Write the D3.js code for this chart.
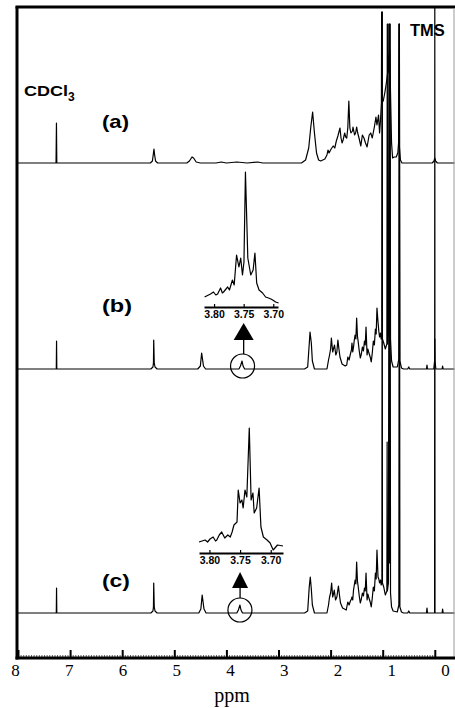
<!DOCTYPE html>
<html><head><meta charset="utf-8">
<script src="https://cdn.jsdelivr.net/npm/d3@7"></script>
<style>
html,body{margin:0;padding:0;background:#fff;}
svg{display:block;}
</style></head>
<body>
<svg id="c" width="455" height="708"></svg>
<script>
// ---------------- DATA ----------------
const ppmTicks = [8, 7, 6, 5, 4, 3, 2, 1, 0];
const axisTitle = "ppm";
const spectrumLabels = ["(a)", "(b)", "(c)"];
const insetTicks = [3.80, 3.75, 3.70];

// spectrum (a): [ppm, intensity]
const specA = [
  [8.0,0],[7.27,0],[7.262,40],[7.255,0],
  [5.46,0],[5.42,2],[5.40,10],[5.39,14],[5.38,9],[5.36,2],[5.32,0],
  [4.76,0],[4.71,2],[4.66,6],[4.63,5],[4.58,1],[4.50,0],
  [4.2,0],[4.1,1],[4.0,0],[3.8,1],[3.6,0],[3.4,1],[3.3,0],
  [2.56,0],[2.48,3],[2.42,15],[2.38,36],[2.345,51],[2.31,30],[2.27,10],[2.23,3],[2.19,2],[2.15,3],[2.11,4],
  [2.07,8],[2.05,13],[2.03,10],[1.99,14],[1.95,17],[1.92,15],[1.89,22],[1.86,27],[1.82,35],[1.80,25],
  [1.78,20],[1.76,23],[1.73,30],[1.71,26],[1.69,25],[1.67,35],[1.65,62],[1.63,35],[1.61,30],[1.58,32],
  [1.57,36],[1.54,28],[1.52,30],[1.50,36],[1.48,30],[1.45,24],[1.42,17],[1.39,28],[1.36,25],[1.33,20],
  [1.30,16],[1.26,28],[1.23,30],[1.20,25],[1.16,36],[1.13,46],[1.11,38],[1.08,48],[1.06,30],[1.04,45],
  [1.025,60],[1.02,151],[1.015,60],[0.99,62],[0.96,70],[0.93,80],[0.905,90],[0.90,139],[0.895,90],
  [0.88,100],[0.865,113],[0.85,70],[0.83,20],[0.81,5],[0.78,6],[0.74,6],[0.71,10],
  [0.695,20],[0.69,139],[0.685,20],[0.66,3],[0.63,0],
  [0.05,0],[0.015,2],[0.0,5],[-0.015,2],[-0.05,0],[-0.38,0]
];

// spectrum (b)
const specB = [
  [8.0,0],[7.265,0],[7.26,28],[7.255,0],
  [5.45,0],[5.41,2],[5.40,6],[5.395,29],[5.385,6],[5.37,2],[5.33,0],
  [4.55,0],[4.50,3],[4.475,16],[4.44,3],[4.40,0],
  [3.76,0],[3.73,3],[3.70,8],[3.68,3],[3.65,0],
  [2.50,0],[2.44,2],[2.41,25],[2.395,37],[2.37,26],[2.35,8],[2.31,0],
  [2.07,0],[2.04,9],[2.02,14],[2.00,20],[1.985,31],[1.96,17],[1.94,21],[1.925,24],[1.90,14],[1.88,17],
  [1.86,29],[1.84,20],[1.82,12],[1.78,5],[1.72,3],[1.69,4],[1.67,12],[1.645,9],[1.62,15],[1.60,19],
  [1.59,26],[1.575,17],[1.56,22],[1.545,29],[1.53,34],[1.515,30],[1.50,51],[1.485,33],[1.47,27],
  [1.45,18],[1.43,11],[1.41,15],[1.39,22],[1.37,18],[1.35,28],[1.335,24],[1.32,42],[1.30,14],
  [1.285,20],[1.27,17],[1.24,12],[1.22,7],[1.20,16],[1.18,28],[1.16,24],[1.14,40],[1.125,35],
  [1.11,61],[1.09,47],[1.075,38],[1.06,32],[1.04,36],[1.03,30],[1.015,30],[1.01,357],[1.005,30],
  [0.98,26],[0.95,20],[0.92,25],[0.912,345],[0.905,25],[0.89,36],[0.875,345],[0.867,60],[0.86,345],
  [0.85,30],[0.83,8],[0.80,2],[0.72,2],[0.69,10],[0.68,345],[0.67,8],[0.64,1],[0.60,0],
  [0.52,0],[0.50,2],[0.48,0],[0.16,0],[0.15,4],[0.14,0],
  [0.02,0],[0.004,8],[0.0,30],[-0.004,8],[-0.02,0],
  [-0.14,0],[-0.15,3],[-0.16,0],[-0.38,0]
];

// spectrum (c)
const specC = [
  [8.0,0],[7.265,0],[7.26,25],[7.255,0],
  [5.45,0],[5.41,2],[5.40,6],[5.395,30],[5.385,6],[5.37,2],[5.33,0],
  [4.53,0],[4.49,4],[4.465,18],[4.43,4],[4.39,0],
  [3.80,0],[3.77,3],[3.74,8],[3.72,3],[3.69,0],
  [2.50,0],[2.44,2],[2.41,26],[2.39,36],[2.37,24],[2.35,8],[2.31,0],
  [2.07,0],[2.04,8],[2.02,16],[2.00,20],[1.98,30],[1.96,16],[1.945,19],[1.93,23],[1.905,13],[1.88,16],
  [1.85,27],[1.83,18],[1.81,10],[1.77,5],[1.70,3],[1.67,11],[1.645,8],[1.62,12],[1.60,14],[1.59,16],
  [1.575,13],[1.56,23],[1.545,28],[1.53,33],[1.515,29],[1.50,51],[1.485,32],[1.47,26],[1.45,17],
  [1.43,10],[1.41,14],[1.39,20],[1.37,17],[1.35,25],[1.335,22],[1.32,40],[1.30,13],[1.285,19],
  [1.27,16],[1.24,11],[1.22,6],[1.20,15],[1.18,26],[1.16,22],[1.14,40],[1.125,34],[1.11,63],
  [1.09,36],[1.075,34],[1.06,30],[1.04,33],[1.03,28],[1.015,30],[1.01,601],[1.005,30],
  [0.98,26],[0.95,18],[0.92,22],[0.915,171],[0.91,22],[0.89,30],[0.875,589],[0.867,50],[0.86,589],
  [0.85,20],[0.83,6],[0.80,2],[0.72,1],[0.69,8],[0.68,589],[0.67,6],[0.64,1],[0.60,0],
  [0.52,0],[0.50,2],[0.48,0],[0.16,0],[0.15,5],[0.14,0],
  [0.004,0],[0.0,620],[-0.004,0],
  [-0.14,0],[-0.15,4],[-0.16,0],[-0.38,0]
];

// expanded multiplet near 3.75 ppm, spectrum (b)
const insetB = [
  [3.816,10],[3.806,13],[3.801,15],[3.797,12],[3.794,13],[3.789,19],[3.786,14],[3.784,15],
  [3.777,20],[3.774,17],[3.769,27],[3.766,22],[3.762,52],[3.758,40],[3.755,49],[3.752,32],
  [3.7495,45],[3.747,135],[3.743,49],[3.738,32],[3.734,37],[3.731,54],[3.728,24],[3.724,17],
  [3.718,14],[3.713,10],[3.708,9],[3.704,8],[3.701,7],[3.696,5],[3.691,4]
];

// expanded multiplet near 3.75 ppm, spectrum (c)
const insetC = [
  [3.817,11],[3.812,12],[3.807,13],[3.803,11],[3.799,14],[3.794,16],[3.790,12],[3.788,13],
  [3.784,18],[3.780,21],[3.775,15],[3.770,18],[3.766,16],[3.763,21],[3.760,28],[3.755,31],
  [3.753,63],[3.750,50],[3.747,53],[3.745,45],[3.742,63],[3.739,56],[3.735,125],[3.732,53],
  [3.729,60],[3.727,40],[3.723,45],[3.719,65],[3.716,26],[3.712,16],[3.706,13],[3.701,10],
  [3.696,3],[3.689,8],[3.680,7]
];

// ---------------- LAYOUT ----------------
const W = 455, H = 708;
const frame = {left: 18, top: 8, right: 454, bottom: 658};
const svg = d3.select("#c");

const x = d3.scaleLinear().domain([8, -0.38]).range([frame.left, 454.6]);
const xLab = d3.scaleLinear().domain([8, 0]).range([15, 445]);

const panels = [
  {data: specA, base: 163, label: spectrumLabels[0], lx: 102, ly: 128, lw: 27},
  {data: specB, base: 369, label: spectrumLabels[1], lx: 102, ly: 312, lw: 30},
  {data: specC, base: 613, label: spectrumLabels[2], lx: 102, ly: 587, lw: 28}
];
panels[1].inset = {data: insetB, dom: [3.817, 3.692], rng: [204, 278], axisY: 307,
  mark: 3.69, tipY: 323, baseY: 340, halfW: 10, circR: 12, circDy: -3};
panels[2].inset = {data: insetC, dom: [3.817, 3.680], rng: [199, 283], axisY: 553,
  mark: 3.74, tipY: 572, baseY: 588, halfW: 8, circR: 12, circDy: -3};

svg.append("defs").append("clipPath").attr("id", "clipF")
  .append("rect").attr("x", frame.left).attr("y", frame.top)
  .attr("width", W - frame.left).attr("height", frame.bottom - frame.top);

const plot = svg.append("g").attr("clip-path", "url(#clipF)");

panels.forEach(p => {
  const y = d3.scaleLinear().domain([0, 100]).range([p.base, p.base - 100]);
  const line = d3.line().x(d => x(d[0])).y(d => y(d[1]));
  plot.append("path").datum(p.data).attr("d", line)
    .attr("fill", "none").attr("stroke", "#000").attr("stroke-width", 1.2)
    .attr("stroke-linejoin", "round");

  svg.append("text").attr("x", p.lx).attr("y", p.ly).text(p.label)
    .attr("font-family", "Liberation Sans, Arial, sans-serif").attr("font-weight", "bold")
    .attr("font-size", 18.5).attr("textLength", p.lw).attr("lengthAdjust", "spacingAndGlyphs");

  if (p.inset) {
    const q = p.inset;
    const xi = d3.scaleLinear().domain(q.dom).range(q.rng);
    const yi = d3.scaleLinear().domain([0, 100]).range([q.axisY, q.axisY - 100]);
    svg.append("path").datum(q.data)
      .attr("d", d3.line().x(d => xi(d[0])).y(d => yi(d[1])))
      .attr("fill", "none").attr("stroke", "#000").attr("stroke-width", 1.2)
      .attr("stroke-linejoin", "round");
    const ax = svg.append("g").attr("transform", `translate(0,${q.axisY})`)
      .call(d3.axisBottom(xi).tickValues(insetTicks).tickFormat(d3.format(".2f"))
        .tickSizeInner(-3).tickSizeOuter(0).tickPadding(4));
    ax.select(".domain").attr("stroke-width", 2);
    ax.selectAll(".tick line").attr("stroke-width", 1.2);
    ax.selectAll(".tick text").attr("font-family", "Liberation Sans, Arial, sans-serif")
      .attr("font-weight", "bold").attr("font-size", 10.5).attr("fill", "#000");

    // arrow and circle marker
    const cx = x(q.mark), cy = p.base + q.circDy;
    const tipX = xi(3.75);
    svg.append("path")
      .attr("d", `M${tipX},${q.tipY} L${tipX - q.halfW},${q.baseY} L${tipX + q.halfW},${q.baseY} Z`)
      .attr("fill", "#000");
    svg.append("line").attr("x1", tipX).attr("x2", tipX)
      .attr("y1", q.baseY).attr("y2", cy - q.circR)
      .attr("stroke", "#000").attr("stroke-width", 1.3);
    svg.append("circle").attr("cx", cx).attr("cy", cy).attr("r", q.circR)
      .attr("fill", "none").attr("stroke", "#000").attr("stroke-width", 1.2);
  }
});

// CDCl3 and TMS labels
const cd = svg.append("text").attr("x", 24).attr("y", 96)
  .attr("font-family", "Liberation Sans, Arial, sans-serif").attr("font-weight", "bold").attr("font-size", 15);
cd.append("tspan").text("CDCl").attr("textLength", 44).attr("lengthAdjust", "spacingAndGlyphs");
cd.append("tspan").text("3").attr("font-size", 12).attr("dy", 5);
svg.append("text").attr("x", 410).attr("y", 36).text("TMS")
  .attr("font-family", "Liberation Sans, Arial, sans-serif").attr("font-weight", "bold")
  .attr("font-size", 16.5);

// frame
svg.append("line").attr("x1", frame.left - 1).attr("x2", frame.left - 1)
  .attr("y1", frame.top - 1.5).attr("y2", frame.bottom + 1.5)
  .attr("stroke", "#000").attr("stroke-width", 3);
svg.append("line").attr("x1", frame.left - 2.5).attr("x2", W)
  .attr("y1", frame.top - 1).attr("y2", frame.top - 1)
  .attr("stroke", "#000").attr("stroke-width", 3);
svg.append("line").attr("x1", frame.right).attr("x2", frame.right)
  .attr("y1", frame.top).attr("y2", frame.bottom)
  .attr("stroke", "#999").attr("stroke-width", 1);

// bottom axis: minor ticks, major ticks, labels
const minor = d3.range(0, 161).map(i => 8 - i * 0.05).filter(v => v >= -0.36);
svg.append("g").attr("transform", `translate(0,${frame.bottom})`)
  .call(d3.axisBottom(x).tickValues(minor).tickFormat("").tickSizeInner(-3).tickSizeOuter(0))
  .call(g => g.select(".domain").remove())
  .selectAll(".tick line").attr("stroke-width", 0.8).attr("stroke", "#333");
svg.append("g").attr("transform", `translate(0,${frame.bottom})`)
  .call(d3.axisBottom(x).tickValues(ppmTicks).tickFormat("").tickSizeInner(-8).tickSizeOuter(0))
  .call(g => g.select(".domain").remove())
  .selectAll(".tick line").attr("stroke-width", 2).attr("stroke", "#000");
svg.append("line").attr("x1", frame.left - 2.5).attr("x2", W)
  .attr("y1", frame.bottom).attr("y2", frame.bottom)
  .attr("stroke", "#000").attr("stroke-width", 3);
const lab = svg.append("g").attr("transform", `translate(0,${frame.bottom})`)
  .call(d3.axisBottom(xLab).tickValues(ppmTicks).tickFormat(d3.format("d")).tickSize(0).tickPadding(6));
lab.select(".domain").remove();
lab.selectAll(".tick text").attr("font-family", "Liberation Serif, Times New Roman, serif")
  .attr("font-size", 17).attr("fill", "#000");

svg.append("text").attr("x", 232).attr("y", 702).attr("text-anchor", "middle").text(axisTitle)
  .attr("font-family", "Liberation Serif, Times New Roman, serif").attr("font-size", 20);
</script>
</body></html>
